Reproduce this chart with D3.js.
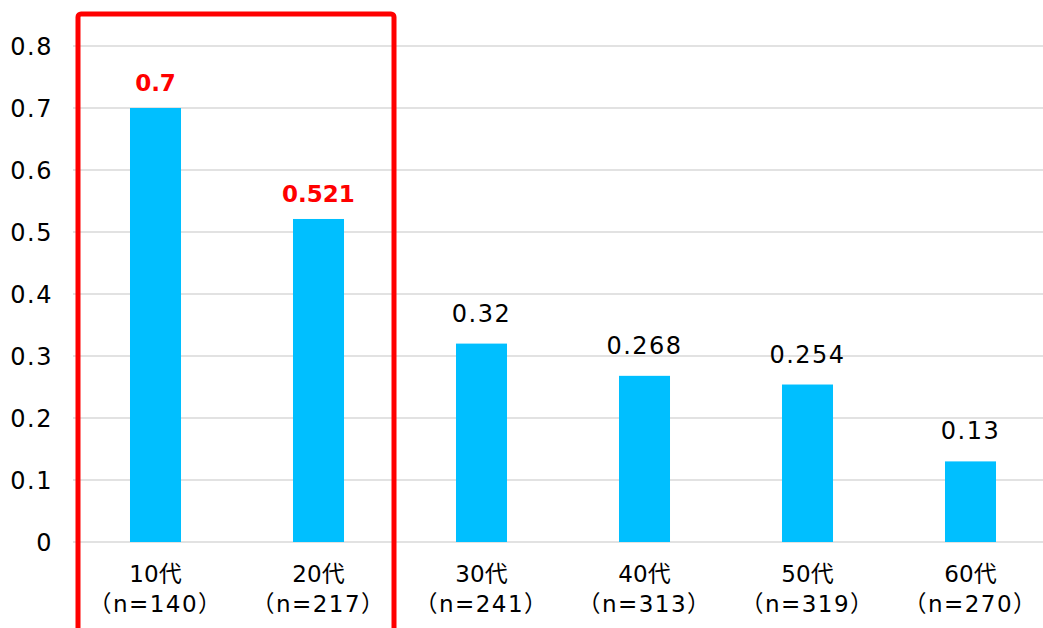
<!DOCTYPE html>
<html>
<head>
<meta charset="utf-8">
<script src="https://cdn.jsdelivr.net/npm/d3@7"></script>
<style>
  body { margin: 0; background: #fff; }
  text { font-family: "DejaVu Sans", "Noto Sans CJK JP", sans-serif; }
</style>
</head>
<body>
<div id="chart"></div>
<script>
// data
let ages = ['10代', '20代', '30代', '40代', '50代', '60代'];
let counts = ['（n=140）', '（n=217）', '（n=241）', '（n=313）', '（n=319）', '（n=270）'];
let values = [0.7, 0.521, 0.32, 0.268, 0.254, 0.13];
let valueLabels = ['0.7', '0.521', '0.32', '0.268', '0.254', '0.13'];
let yTicks = [0, 0.1, 0.2, 0.3, 0.4, 0.5, 0.6, 0.7, 0.8];
let highlighted = ['10代', '20代'];

let drawChart = function () {
    var w = 1043, h = 628;
    const svg = d3.select('#chart').append('svg')
        .attr('width', w)
        .attr('height', h);

    const x = d3.scaleBand()
        .domain(ages)
        .range([74, 1052])
        .paddingInner(0.687)
        .paddingOuter(0.3435);

    const y = d3.scaleLinear()
        .domain([0, 0.8])
        .range([542, 46]);

    // gridlines
    svg.selectAll('line.grid')
        .data(yTicks)
        .enter()
        .append('line')
        .attr('class', 'grid')
        .attr('x1', 73)
        .attr('x2', w)
        .attr('y1', d => y(d))
        .attr('y2', d => y(d))
        .attr('stroke', '#d9d9d9')
        .attr('stroke-width', 1.5);

    // y tick labels
    svg.selectAll('text.ytick')
        .data(yTicks)
        .enter()
        .append('text')
        .attr('class', 'ytick')
        .attr('x', 53)
        .attr('y', d => y(d) + 9)
        .attr('text-anchor', 'end')
        .attr('font-size', 24)
        .attr('letter-spacing', 1.5)
        .attr('fill', '#000')
        .text(d => d === 0 ? '0' : d3.format('.1f')(d));

    // bars
    svg.selectAll('rect.bar')
        .data(values)
        .enter()
        .append('rect')
        .attr('class', 'bar')
        .attr('x', (d, i) => x(ages[i]))
        .attr('y', d => y(d))
        .attr('width', x.bandwidth())
        .attr('height', d => y(0) - y(d))
        .attr('fill', '#00bfff');

    // value labels
    svg.selectAll('text.val')
        .data(values)
        .enter()
        .append('text')
        .attr('class', 'val')
        .attr('x', (d, i) => x(ages[i]) + x.bandwidth() / 2)
        .attr('y', (d, i) => y(d) - (highlighted.includes(ages[i]) ? 17 : 22))
        .attr('text-anchor', 'middle')
        .attr('font-size', (d, i) => highlighted.includes(ages[i]) ? 23 : 24)
        .attr('letter-spacing', (d, i) => highlighted.includes(ages[i]) ? 0 : 1.5)
        .attr('font-weight', (d, i) => highlighted.includes(ages[i]) ? 'bold' : 'normal')
        .attr('fill', (d, i) => highlighted.includes(ages[i]) ? '#ff0000' : '#000')
        .text((d, i) => valueLabels[i]);

    // category labels
    svg.selectAll('text.cat')
        .data(ages)
        .enter()
        .append('text')
        .attr('class', 'cat')
        .attr('x', d => x(d) + x.bandwidth() / 2)
        .attr('y', 582)
        .attr('text-anchor', 'middle')
        .attr('font-size', 23)
        .attr('fill', '#000')
        .text(d => d);

    svg.selectAll('text.cnt')
        .data(counts)
        .enter()
        .append('text')
        .attr('class', 'cnt')
        .attr('x', (d, i) => x(ages[i]) + x.bandwidth() / 2)
        .attr('y', 612)
        .attr('text-anchor', 'middle')
        .attr('font-size', 23)
        .attr('letter-spacing', 1.5)
        .attr('fill', '#000')
        .text(d => d);

    // red highlight box around the first two groups
    var x0 = x(highlighted[0]) - x.step() * x.paddingOuter() + 4;
    var x1 = x(highlighted[1]) + x.bandwidth() + x.step() * x.paddingInner() / 2 - 6;
    svg.append('rect')
        .attr('x', x0)
        .attr('y', 14)
        .attr('width', x1 - x0)
        .attr('height', 700)
        .attr('rx', 3)
        .attr('fill', 'none')
        .attr('stroke', '#ff0000')
        .attr('stroke-width', 5);

    svg.node();
}

drawChart();
</script>
</body>
</html>
